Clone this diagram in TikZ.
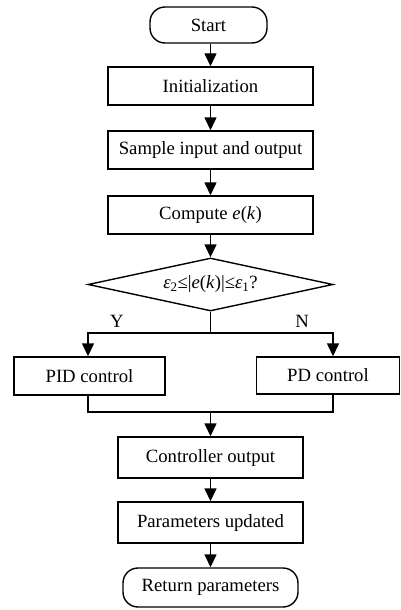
\documentclass[tikz,border=0pt]{standalone}
\usepackage{fontspec}
\setmainfont{Liberation Serif}
\usetikzlibrary{arrows.meta,shapes.geometric}

\tikzset{
  box/.style={draw, line width=1.4pt, rectangle, inner sep=0pt, anchor=center},
  pill/.style={box, rounded corners=15pt},
  decision/.style={draw, line width=1.4pt, diamond, inner sep=0pt, aspect=4.6,
    minimum width=245pt, minimum height=53pt},
  line/.style={line width=1.4pt},
  arr/.style={line, -{Triangle[width=12pt,length=13pt]}},
  lbl/.style={inner sep=0pt}
}

\begin{document}
\begin{tikzpicture}[x=1pt,y=-1pt,font=\fontsize{18.7}{22}\selectfont]
\useasboundingbox (0,0) rectangle (401,610);

% process steps
\node[pill] (start) at (208.5,25) [minimum width=117pt, minimum height=36pt] {Start};
\node[box] (init) at (210.5,86) [minimum width=205pt, minimum height=38pt] {Initialization};
\node[box] (sample) at (210.5,150) [minimum width=205pt, minimum height=38pt] {Sample input and output};
\node[box] (comp) at (210.5,215) [minimum width=205pt, minimum height=38pt] {Compute \textit{e}(\textit{k})};
\node[decision] (dec) at (210.5,284.5)
  {\textit{ε}\textsubscript{2}≤|\textit{e}(\textit{k})|≤\textit{ε}\textsubscript{1}?};
\node[box] (pid) at (89.5,376) [minimum width=151pt, minimum height=38pt] {PID control};
\node[box] (pd) at (328,375.5) [minimum width=143pt, minimum height=37pt] {PD control};
\node[box] (ctrl) at (210.5,457.5) [minimum width=185pt, minimum height=41pt] {Controller output};
\node[box] (param) at (210.5,522.5) [minimum width=185pt, minimum height=41pt] {Parameters updated};
\node[pill] (ret) at (210.5,587.5) [minimum width=175pt, minimum height=39pt] {Return parameters};

% branch and merge points
\coordinate (split) at (210.5,333);
\coordinate (yl) at (88,333);
\coordinate (yr) at (333,333);
\coordinate (ml) at (88,412);
\coordinate (mr) at (333,412);
\coordinate (merge) at (210.5,412);

% branch labels
\node[lbl] (ylab) at (117,321) {Y};
\node[lbl] (nlab) at (302,321) {N};

% main flow
\draw[arr] (start.south -| init.north) -- (init.north);
\draw[arr] (init) -- (sample);
\draw[arr] (sample) -- (comp);
\draw[arr] (comp) -- (dec);

% decision branches
\draw[line] (dec.south) -- (split);
\draw[arr] (split) -- (yl) -- (yl |- pid.north);
\draw[arr] (split) -- (yr) -- (yr |- pd.north);

% merge
\draw[line] (pid.south -| ml) -- (ml) -- (mr) -- (pd.south -| mr);
\draw[arr] (merge) -- (ctrl);
\draw[arr] (ctrl) -- (param);
\draw[arr] (param) -- (ret);
\end{tikzpicture}
\end{document}
